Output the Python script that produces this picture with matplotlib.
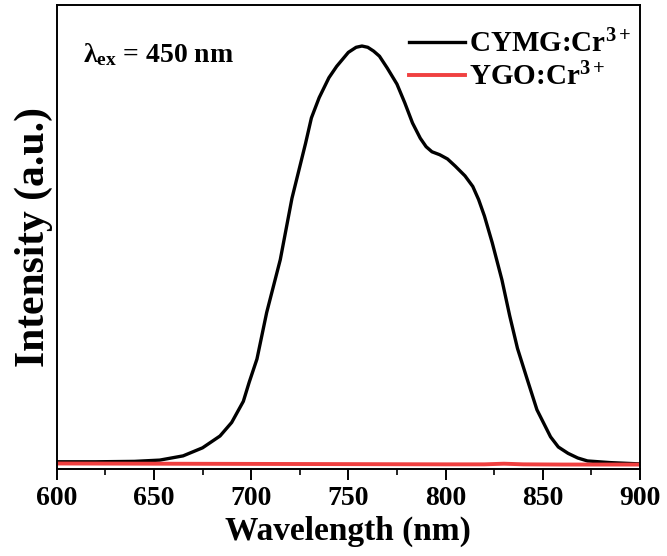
import matplotlib
matplotlib.use("Agg")
import matplotlib.pyplot as plt
from matplotlib.ticker import MultipleLocator

# emission spectra (normalised intensity)
wavelength = [600, 620, 640, 653, 665, 675, 684, 690, 696, 699, 703, 708, 715, 721,
              728, 731, 735, 740, 744, 750, 754, 757, 760, 763, 766, 770, 775, 779, 783,
              787, 790, 793, 797, 801, 805, 810, 814, 817, 820, 824, 829, 833, 837,
              842, 847, 854, 858, 863, 868, 873, 885, 900]
cymg = [0.017, 0.017, 0.018, 0.021, 0.031, 0.050, 0.078, 0.11, 0.16, 0.205, 0.26,
        0.37, 0.495, 0.64, 0.77, 0.83, 0.878, 0.925, 0.952, 0.985, 0.997, 1.0, 0.997,
        0.988, 0.976, 0.948, 0.91, 0.866, 0.818, 0.782, 0.762, 0.75, 0.743, 0.733,
        0.716, 0.693, 0.668, 0.637, 0.598, 0.535, 0.447, 0.362, 0.285, 0.212, 0.14,
        0.076, 0.052, 0.037, 0.026, 0.019, 0.015, 0.012]
ygo_wl = [600, 650, 700, 750, 800, 820, 830, 840, 860, 900]
ygo = [0.013, 0.0125, 0.012, 0.0115, 0.011, 0.011, 0.0125, 0.011, 0.0105, 0.0105]

plt.rcParams.update({
    "font.family": "Liberation Serif",
    "font.weight": "bold",
    "mathtext.fontset": "custom",
    "mathtext.rm": "Liberation Serif:bold",
    "mathtext.it": "Liberation Serif:bold",
    "mathtext.bf": "Liberation Serif:bold",
})

fig = plt.figure(figsize=(6.67, 5.56), dpi=100)
ax = fig.add_axes([0.085, 0.1565, 0.8745, 0.8345])

ax.plot(wavelength, cymg, color="black", lw=2.4, solid_joinstyle="round",
        label="CYMG:Cr$^{3+}$")
ax.plot(ygo_wl, ygo, color="#f04040", lw=2.8, label="YGO:Cr$^{3+}$")

ax.set_xlim(600, 900)
ax.set_ylim(0, 1.097)
ax.xaxis.set_major_locator(MultipleLocator(50))
ax.xaxis.set_minor_locator(MultipleLocator(25))
ax.set_yticks([])
ax.tick_params(axis="x", which="major", direction="out", length=8, width=1.4,
               labelsize=20, pad=4)
ax.tick_params(axis="x", which="minor", direction="out", length=4, width=1.2)
for s in ax.spines.values():
    s.set_linewidth(1.4)

ax.set_xlabel("Wavelength (nm)", fontsize=24, fontweight="bold", labelpad=4)
ax.set_ylabel("Intensity (a.u.)", fontsize=30, fontweight="bold", labelpad=3)

ax.text(0.045, 0.893, r"$\lambda_{ex}$ = 450 nm", transform=ax.transAxes,
        fontsize=20, fontweight="bold", va="center")

ax.legend(loc="upper right", bbox_to_anchor=(1.0, 0.966), frameon=False,
          fontsize=21, handlelength=1.9, handletextpad=0.15, labelspacing=0.15,
          borderaxespad=0, borderpad=0.3)

fig.savefig("out.png", dpi=100)
